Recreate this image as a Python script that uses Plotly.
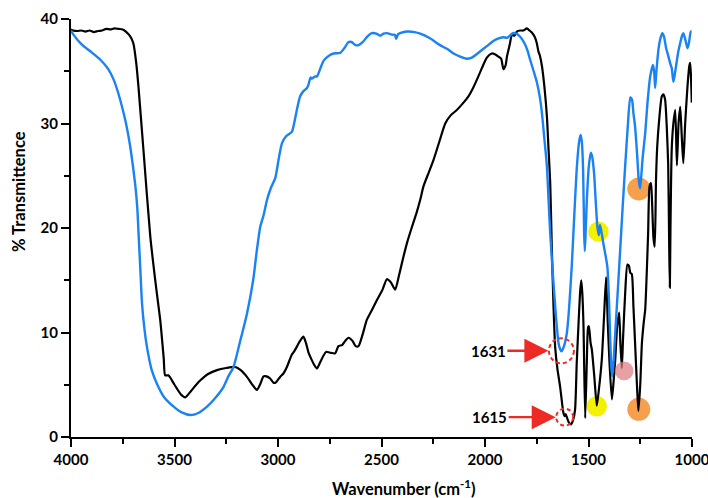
import plotly.graph_objects as go

# ---- spectrum data (wavenumber in cm^-1, % transmittance) ----
wn_black = [4000, 3990, 3970, 3950, 3930, 3910, 3890, 3870, 3850, 3830, 3810, 3790, 3770, 3750,
            3735, 3720, 3705, 3698, 3685, 3674, 3649, 3617, 3590, 3569, 3552, 3545, 3530, 3521,
            3500, 3470, 3448, 3420, 3395, 3376, 3340, 3295, 3250, 3207, 3180, 3150, 3120, 3102,
            3085, 3070, 3055, 3038, 3022, 3012, 2990, 2973, 2957, 2933, 2925, 2910, 2901, 2890,
            2877, 2865, 2853, 2840, 2825, 2812, 2795, 2780, 2767, 2745, 2724, 2708, 2690, 2675,
            2659, 2640, 2625, 2611, 2590, 2571, 2545, 2522, 2495, 2474, 2455, 2434, 2415, 2394,
            2375, 2353, 2330, 2313, 2297, 2270, 2249, 2220, 2192, 2165, 2136, 2108, 2080, 2060,
            2039, 2015, 1991, 1967, 1950, 1935, 1922, 1911, 1900, 1894, 1880, 1870, 1858, 1846,
            1830, 1815, 1798, 1785, 1774, 1760, 1750, 1742, 1735, 1725, 1713, 1701, 1693, 1685,
            1677, 1669, 1661, 1650, 1637, 1621, 1615, 1610, 1603, 1595, 1585, 1575, 1565, 1557,
            1549, 1540, 1535, 1530, 1524, 1516, 1508, 1502, 1498, 1490, 1484, 1472, 1460, 1450,
            1436, 1425, 1415, 1407, 1399, 1387, 1378, 1371, 1362, 1352, 1346, 1339, 1333, 1323,
            1312, 1305, 1298, 1291, 1283, 1275, 1266, 1259, 1250, 1242, 1233, 1226, 1219, 1212,
            1205, 1198, 1193, 1186, 1180, 1174, 1168, 1158, 1146, 1138, 1130, 1122, 1115, 1110,
            1107, 1104, 1098, 1090, 1081, 1073, 1065, 1057, 1050, 1042, 1033, 1022, 1013, 1009,
            1005, 1001]
t_black = [39.0, 38.9, 38.85, 38.9, 38.8, 38.9, 38.75, 38.85, 38.9, 39.05, 39.0, 39.1, 39.05, 39.0,
           38.8, 38.5, 38.0, 37.6, 35.8, 33.5, 27.2, 19.2, 14.5, 11.2, 7.5, 5.9, 5.9, 5.7,
           5.0, 4.1, 3.8, 4.4, 5.0, 5.4, 6.0, 6.4, 6.6, 6.7, 6.4, 5.75, 4.9, 4.5,
           5.1, 5.8, 5.8, 5.6, 5.2, 5.2, 5.75, 6.1, 6.7, 7.9, 8.1, 8.6, 8.95, 9.3,
           9.6, 9.0, 8.1, 7.5, 6.9, 6.55, 7.2, 7.8, 8.15, 8.05, 8.0, 8.7, 8.8, 9.2,
           9.5, 9.2, 8.7, 8.7, 9.9, 11.2, 12.2, 13.1, 14.1, 15.1, 14.8, 14.1, 15.5, 17.25,
           18.7, 20.1, 21.5, 22.7, 24.0, 25.4, 26.5, 28.3, 30.0, 30.8, 31.3, 31.9, 32.6, 33.3,
           34.2, 35.3, 36.3, 36.7, 36.6, 36.4, 36.2, 35.2, 35.6, 36.4, 37.6, 38.5, 38.4, 38.8,
           38.9, 38.9, 39.1, 38.9, 38.7, 38.3, 37.7, 36.9, 36.5, 35.5, 33.5, 30.7, 27.5, 24.3,
           17.9, 12.5, 8.6, 6.5, 4.8, 2.3, 2.0, 2.2, 1.8, 1.4, 1.2, 1.6, 2.6, 7.0,
           10.5, 14.0, 15.0, 13.8, 10.5, 1.8, 7.3, 10.5, 10.6, 9.0, 8.4, 5.8, 3.0, 4.5,
           7.35, 11.5, 15.3, 11.0, 7.3, 3.6, 5.5, 7.35, 10.5, 11.9, 9.0, 6.6, 9.5, 13.7,
           16.5, 16.4, 15.7, 15.6, 12.5, 9.0, 5.0, 2.5, 5.0, 9.0, 11.0, 12.2, 15.5, 19.5,
           24.0, 24.3, 22.5, 19.0, 18.2, 24.5, 27.8, 30.5, 32.6, 32.8, 32.3, 29.7, 26.0, 18.0,
           14.3, 20.0, 27.5, 30.0, 31.3, 26.0, 30.0, 31.6, 29.0, 26.2, 30.0, 33.5, 35.5, 35.8,
           34.5, 32.0]

wn_blue = [4000, 3990, 3950, 3900, 3858, 3820, 3794, 3770, 3746, 3730, 3714, 3700, 3689, 3680,
           3673, 3665, 3657, 3645, 3633, 3610, 3585, 3550, 3504, 3465, 3424, 3385, 3343, 3300,
           3263, 3240, 3215, 3185, 3150, 3120, 3102, 3086, 3070, 3053, 3035, 3013, 2995, 2981,
           2960, 2933, 2920, 2909, 2893, 2877, 2860, 2853, 2843, 2836, 2822, 2812, 2795, 2780,
           2760, 2732, 2700, 2680, 2659, 2645, 2625, 2611, 2590, 2570, 2547, 2525, 2506, 2490,
           2474, 2450, 2436, 2429, 2420, 2410, 2377, 2340, 2313, 2270, 2217, 2180, 2152, 2120,
           2088, 2070, 2056, 2030, 1991, 1960, 1927, 1910, 1894, 1880, 1865, 1850, 1830, 1810,
           1795, 1782, 1765, 1750, 1735, 1725, 1713, 1701, 1693, 1685, 1669, 1657, 1645, 1637,
           1631, 1620, 1605, 1595, 1581, 1568, 1556, 1545, 1538, 1532, 1526, 1521, 1518, 1514,
           1508, 1498, 1489, 1482, 1473, 1465, 1457, 1450, 1445, 1440, 1428, 1409, 1400, 1396,
           1390, 1385, 1378, 1371, 1360, 1347, 1335, 1323, 1310, 1298, 1290, 1283, 1275, 1265,
           1257, 1251, 1245, 1238, 1226, 1215, 1202, 1189, 1183, 1178, 1172, 1162, 1152, 1143,
           1135, 1125, 1115, 1106, 1098, 1090, 1084, 1077, 1067, 1057, 1048, 1042, 1032, 1022,
           1014, 1006, 1002]
t_blue = [38.9, 38.55, 37.6, 36.8, 36.1, 35.2, 34.2, 32.8, 31.0, 29.6, 27.8, 25.8, 24.0, 22.0,
          19.2, 16.0, 12.8, 10.3, 8.6, 6.4, 5.1, 3.8, 2.9, 2.35, 2.1, 2.3, 2.9, 3.8,
          4.8, 5.8, 6.7, 9.0, 11.8, 15.0, 17.9, 20.1, 21.2, 22.7, 23.8, 24.8, 26.8, 28.1,
          28.8, 29.2, 30.2, 31.3, 32.6, 33.1, 33.4, 33.7, 34.4, 34.3, 34.5, 34.5, 35.3, 36.0,
          36.4, 36.7, 36.75, 37.2, 37.8, 37.8, 37.5, 37.5, 37.8, 38.3, 38.65, 38.6, 38.4, 38.6,
          38.65, 38.5, 38.5, 38.1, 38.55, 38.65, 38.8, 38.75, 38.6, 38.2, 37.5, 37.1, 36.7, 36.4,
          36.2, 36.25, 36.4, 36.8, 37.4, 37.9, 38.2, 38.25, 38.2, 38.4, 38.65, 38.6, 38.3, 37.7,
          37.0, 36.1, 35.0, 34.0, 32.5, 31.0, 28.5, 25.9, 22.7, 19.5, 14.7, 11.5, 9.0, 8.4,
          8.2, 8.6, 9.9, 12.0, 16.3, 21.5, 25.9, 28.3, 28.9, 28.2, 25.5, 19.5, 17.8, 19.5,
          22.7, 26.0, 27.2, 26.8, 25.2, 22.5, 20.1, 19.3, 20.3, 19.9, 18.5, 16.3, 12.5, 9.9,
          6.8, 5.8, 7.5, 9.9, 13.5, 17.9, 22.0, 25.9, 29.8, 32.5, 32.3, 31.0, 29.7, 27.0,
          24.5, 23.8, 25.0, 26.8, 29.1, 32.0, 34.5, 35.6, 35.0, 33.4, 35.0, 37.1, 38.2, 38.65,
          38.3, 37.2, 36.5, 35.8, 35.3, 34.0, 34.6, 35.5, 36.8, 37.7, 38.4, 38.65, 38.0, 37.2,
          37.8, 38.8, 38.8]

x_ticks = [4000, 3500, 3000, 2500, 2000, 1500, 1000]
x_minor = [3750, 3250, 2750, 2250, 1750, 1250]
y_ticks = [0, 10, 20, 30, 40]
y_minor = [5, 15, 25, 35]

x_title = "Wavenumber (cm<sup>-1</sup>)"
y_title = "% Transmittence"

# highlighted peaks: (wavenumber, transmittance)
peak_labels = ["1631", "1615"]
peak_wn = [1631, 1615]
peak_t = [8.25, 1.9]

yellow_wn = [1452, 1460]
yellow_t = [19.65, 2.94]
orange_wn = [1257, 1257]
orange_t = [23.74, 2.65]
pink_wn = [1328]
pink_t = [6.33]

RED = "#ee2a24"
FONT = "Lato"

# plot-area geometry in pixels
W, H = 708, 498
ML, MR, MT, MB = 71, 16, 19, 61
PW, PH = W - ML - MR, H - MT - MB

fig = go.Figure()
fig.add_trace(go.Scatter(x=wn_black, y=t_black, mode="lines",
                         line=dict(color="#000000", width=2.2, shape="spline", smoothing=0.6),
                         hoverinfo="skip", showlegend=False))
fig.add_trace(go.Scatter(x=wn_blue, y=t_blue, mode="lines",
                         line=dict(color="#1a82f2", width=2.4, shape="spline", smoothing=0.6),
                         hoverinfo="skip", showlegend=False))

shapes = []


def dot(xc, yc, r, color, layer="below", opacity=1.0, line=None):
    return dict(type="circle", xref="x", yref="y", xsizemode="pixel", ysizemode="pixel",
                xanchor=xc, yanchor=yc, x0=-r, x1=r, y0=-r, y1=r, layer=layer,
                opacity=opacity, fillcolor=color if line is None else "rgba(0,0,0,0)",
                line=line if line is not None else dict(width=0))


for xc, yc in zip(yellow_wn, yellow_t):
    shapes.append(dot(xc, yc, 10.2, "#f3f000"))
for xc, yc in zip(orange_wn, orange_t):
    shapes.append(dot(xc, yc, 11.5, "#f6a04e"))
for xc, yc in zip(pink_wn, pink_t):
    shapes.append(dot(xc, yc, 9.4, "rgb(222,119,129)", layer="above", opacity=0.7))

radii = [12.5, 8.5]
for xc, yc, r in zip(peak_wn, peak_t, radii):
    shapes.append(dot(xc, yc, r, None, layer="above",
                      line=dict(color=RED, width=2, dash="4px,3px")))

annotations = []
offsets = [-73, -75]
standoffs = [13, 9]
for lab, xc, yc, ax, so in zip(peak_labels, peak_wn, peak_t, offsets, standoffs):
    annotations.append(dict(x=xc, y=yc, xref="x", yref="y", text="<b>%s</b>" % lab,
                            showarrow=True, arrowhead=2, arrowsize=2.0, arrowwidth=2.4,
                            arrowcolor=RED, ax=ax, ay=0, standoff=so,
                            font=dict(family=FONT, size=15, color="black")))

# axis titles placed as annotations so their position can be set exactly
title_font = dict(family=FONT, size=16.5, color="black", weight="bold")
annotations.append(dict(text=x_title, xref="paper", yref="paper",
                        x=(404 - ML) / PW, y=-(488 - (MT + PH)) / PH,
                        xanchor="center", yanchor="middle", showarrow=False, font=title_font))
annotations.append(dict(text=y_title, xref="paper", yref="paper", textangle=-90,
                        x=-(ML - 19) / PW, y=(MT + PH - 192) / PH,
                        xanchor="center", yanchor="middle", showarrow=False, font=title_font))

axis_common = dict(showline=True, linecolor="black", linewidth=2, mirror=False,
                   ticks="outside", ticklen=8, tickwidth=2, tickcolor="black",
                   showgrid=False, zeroline=False, automargin=False,
                   ticklabeloverflow="allow",
                   tickfont=dict(family=FONT, size=15, color="black", weight="bold"))

fig.update_layout(
    width=W, height=H,
    margin=dict(l=ML, r=MR, t=MT, b=MB, autoexpand=False),
    paper_bgcolor="white", plot_bgcolor="white",
    shapes=shapes, annotations=annotations,
    xaxis=dict(range=[4000, 1000], tickvals=x_ticks,
               minor=dict(tickvals=x_minor, ticks="outside", ticklen=5, tickwidth=2,
                          tickcolor="black"),
               **axis_common),
    yaxis=dict(range=[0, 40], tickvals=y_ticks,
               minor=dict(tickvals=y_minor, ticks="outside", ticklen=5, tickwidth=2,
                          tickcolor="black"),
               **axis_common),
)

fig.write_html("out.html")
